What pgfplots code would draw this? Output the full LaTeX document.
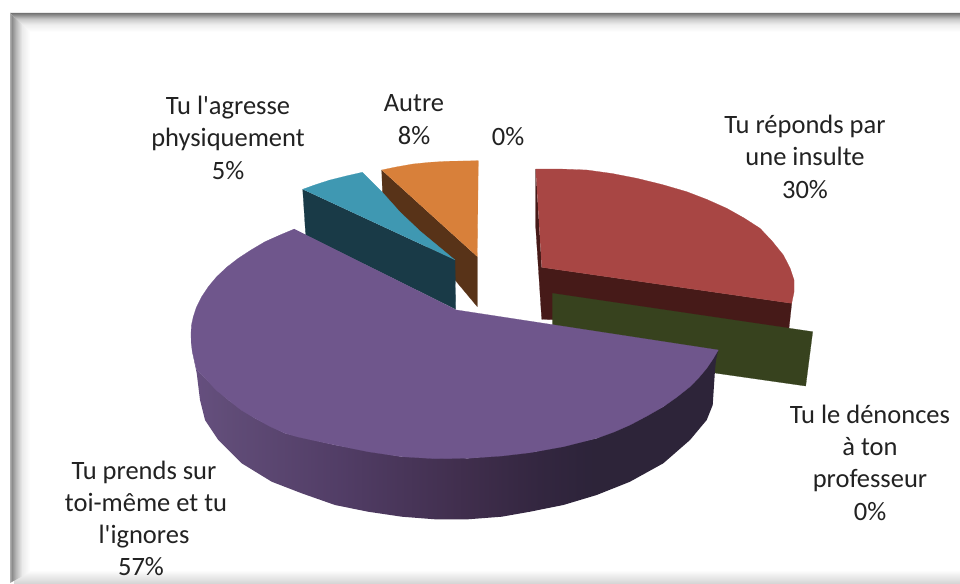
\documentclass[border=0pt]{standalone}
\usepackage{fontspec}
\newfontfamily\lblfont{Carlito}
\usepackage{pgfplots}
\pgfplotsset{compat=1.18}
\definecolor{redtop}{RGB}{168,70,68}
\definecolor{redside}{RGB}{70,26,24}
\definecolor{greenside}{RGB}{55,66,30}
\definecolor{orangetop}{RGB}{216,128,58}
\definecolor{orangeside}{RGB}{88,51,24}
\definecolor{tealtop}{RGB}{63,152,178}
\definecolor{tealside}{RGB}{25,58,71}
\definecolor{purpletop}{RGB}{111,86,140}
\definecolor{txt}{RGB}{34,34,34}
\pgfdeclarehorizontalshading{purpleside}{100bp}{rgb(0bp)=(.40,.31,.50); rgb(25bp)=(.40,.31,.50); rgb(28bp)=(.38,.30,.47); rgb(39bp)=(.32,.24,.40); rgb(51bp)=(.25,.18,.30); rgb(58bp)=(.20,.15,.25); rgb(63bp)=(.175,.14,.225); rgb(75bp)=(.175,.14,.225); rgb(100bp)=(.175,.14,.225)}
\pgfdeclareverticalshading{frameT}{100bp}{rgb(0bp)=(1,1,1); rgb(25bp)=(1,1,1); rgb(45bp)=(.93,.93,.93); rgb(60bp)=(.78,.78,.78); rgb(75bp)=(.45,.45,.45); rgb(100bp)=(.45,.45,.45)}
\pgfdeclarehorizontalshading{frameL}{100bp}{rgb(0bp)=(.68,.68,.68); rgb(25bp)=(.68,.68,.68); rgb(30bp)=(.55,.55,.55); rgb(40bp)=(.72,.72,.72); rgb(55bp)=(.92,.92,.92); rgb(75bp)=(1,1,1); rgb(100bp)=(1,1,1)}
\pgfdeclareverticalshading{frameB}{100bp}{rgb(0bp)=(.84,.84,.84); rgb(25bp)=(.84,.84,.84); rgb(75bp)=(1,1,1); rgb(100bp)=(1,1,1)}
\newcommand{\lbl}[3]{\node[anchor=base,text=txt,font=\lblfont\fontsize{26.5}{27}\selectfont,inner sep=0pt] at (axis cs:#1,#2) {#3};}
\begin{document}
\begin{tikzpicture}
\begin{axis}[
  at={(0,0)}, anchor=south west,
  scale only axis, width=960pt, height=583pt,
  xmin=0, xmax=960, ymin=0, ymax=583, y dir=reverse,
  hide axis, clip=true,
]
% page and frame
\addplot[fill=white, draw=none] coordinates {(0,0)(960,0)(960,583)(0,583)};
\addplot[shade, shading=frameB, draw=none] coordinates {(14,570)(960,570)(960,583)(14,583)};
\addplot[shade, shading=frameT, draw=none] coordinates {(10,13)(960,13)(960,32)(30,32)};
\addplot[shade, shading=frameL, draw=none] coordinates {(10,13)(30,32)(30,572)(10,583)};
% red slice
\addplot[fill=redside, draw=redside, line width=.2pt] coordinates {(535.7,169)(535.7,227)(541.7,319.3)(789,328)(791.7,303.3)(541.7,267.3)};
\addplot[fill=redtop, draw=redtop, line width=.2pt] coordinates {(535.7,169)(560,169)(586.7,170)(612,173.5)(636.7,178.3)(662,184.5)(686.7,191.7)(707,199.5)(726.7,208.3)(744,218)(760,228.3)(772,241)(783.3,255)(790,268)(794,280)(794,292)(791.7,303.3)(541.7,267.3)};
% green slice
\addplot[fill=greenside, draw=greenside, line width=.2pt] coordinates {(552.3,293.3)(812.7,331.7)(805.7,386)(716.7,373.3)(552.3,335)};
% orange slice
\addplot[fill=orangeside, draw=orangeside, line width=.2pt] coordinates {(381.7,170)(382.5,193)(477.3,306.7)(477.3,256.7)};
\addplot[fill=orangetop, draw=orangetop, line width=.2pt] coordinates {(381.7,170)(396,167)(413,164)(430,162.3)(447,161.3)(463,161)(478.3,160.7)(477.3,256.7)};
% teal slice
\addplot[fill=tealside, draw=tealside, line width=.2pt] coordinates {(302.7,189.3)(305.7,235)(455.7,309.3)(455,260)};
\addplot[fill=tealtop, draw=tealtop, line width=.2pt] coordinates {(302.7,189.3)(316,184.5)(330,180)(346,176)(362.3,172.3)(383,193)(400,212)(420,231)(455,260)};
% purple slice
\addplot[shade, shading=purpleside, draw=none] coordinates {(192.3,351.7)(196.7,370)(205,378)(228.3,400)(255,418.3)(285,433.3)(335,445)(401.7,456.7)(468,458.3)(535,451.7)(596.7,438.3)(663.3,406.7)(706.7,368.3)(718.3,350)(716,360)(715,370)(712.7,405)(706.7,420)(690,440)(663.3,463.3)(630,481.7)(596.7,495)(563.3,505)(530,511.7)(501.7,516.7)(468,519.3)(435,519.3)(401.7,516.7)(368,511.7)(335,505)(301.7,493.3)(271.7,481.7)(241.7,463.3)(218.3,440)(205,420)(200,400)(196.7,373)};
\addplot[fill=purpletop, draw=purpletop, line width=.2pt] coordinates {(294.3,229)(280,235)(265,241.7)(251,250)(238.3,258.3)(227,267)(216.7,276.7)(208.5,286.5)(201.7,296.7)(196.5,307)(193.3,316.7)(191.5,325)(191,333.3)(191.2,343)(192.3,351.7)(196.7,370)(205,378)(216,390)(228.3,400)(241,410)(255,418.3)(270,426.5)(285,433.3)(298,437)(311.7,440)(335,445)(368,451.7)(401.7,456.7)(435,458.7)(468,458.3)(501.7,456)(530,452.7)(563.3,446.7)(596.7,438.3)(614,432)(630,425)(647,416)(663.3,406.7)(677,397)(690,386.7)(699,377.5)(706.7,368.3)(713,359)(718.3,350)(456.7,310)};
% labels
\lbl{805}{133}{Tu réponds par}
\lbl{805}{165.5}{une insulte}
\lbl{805}{198}{30\%}
\lbl{228}{114}{Tu l'agresse}
\lbl{228}{146.5}{physiquement}
\lbl{228}{179}{5\%}
\lbl{414}{112}{Autre}
\lbl{414}{144}{8\%}
\lbl{508}{146}{0\%}
\lbl{870}{423}{Tu le dénonces}
\lbl{870}{455}{à ton}
\lbl{870}{487.5}{professeur}
\lbl{870}{520}{0\%}
\lbl{144}{479}{Tu prends sur}
\lbl{146}{511}{toi-même et tu}
\lbl{144}{543}{l'ignores}
\lbl{141}{575}{57\%}
\end{axis}
\end{tikzpicture}
\end{document}
